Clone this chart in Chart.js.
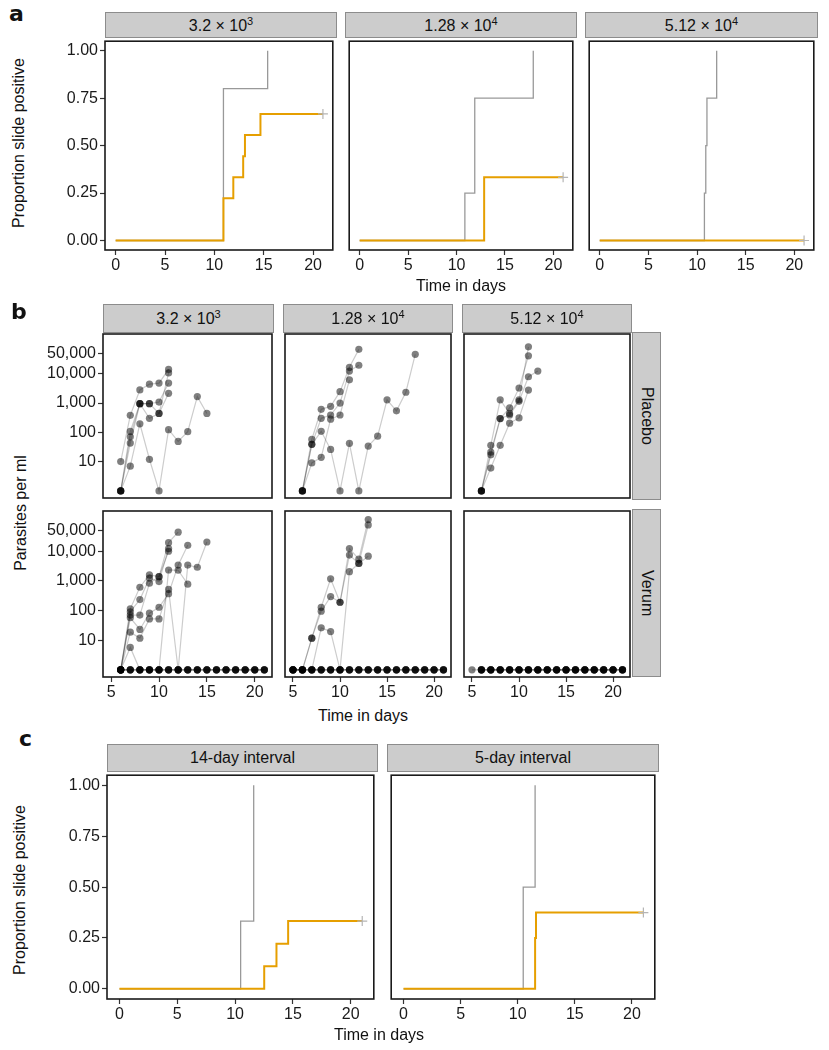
<!DOCTYPE html>
<html>
<head>
<meta charset="utf-8">
<script src="https://cdn.jsdelivr.net/npm/chart.js@4.4.0/dist/chart.umd.min.js"></script>
<style>
    body { margin: 0; background: #fff; font-family: "Liberation Sans", Arial, sans-serif; color: #111; }
    #page { position: relative; width: 829px; height: 1050px; overflow: hidden; }
    canvas { position: absolute; }
    .strip { position: absolute; box-sizing: border-box; background: #cccccc; border: 1px solid #8c8c8c;
             font-size: 16px; display: flex; align-items: center; justify-content: center; white-space: nowrap; }
    .strip sup { font-size: 11px; line-height: 1; vertical-align: 6px; }
    .vstrip { writing-mode: vertical-rl; }
    .lab { position: absolute; font-size: 16px; white-space: nowrap; transform: translate(-50%, -50%); }
    .ylab { transform: translate(-50%, -50%) rotate(-90deg); }
    .letter { position: absolute; font-family: "DejaVu Sans", sans-serif; font-size: 22px; font-weight: bold; line-height: 24px; }
</style>
</head>
<body>
<div id="page"></div>
<script>
// ---- panel a: proportion slide positive (Kaplan-Meier), by dose ----
const kmTicksX = [0, 5, 10, 15, 20]
const kmTicksY = [0, 0.25, 0.5, 0.75, 1]
const aDoses = ["3.2 × 10<sup>3</sup>", "1.28 × 10<sup>4</sup>", "5.12 × 10<sup>4</sup>"]
const aPlaceboT = [[0, 10.92, 15.4], [0, 10.86, 11.88, 17.92], [0, 10.76, 10.9, 11.02, 12.02]]
const aPlaceboP = [[0, 0.8, 1], [0, 0.25, 0.75, 1], [0, 0.25, 0.5, 0.75, 1]]
const aVerumT = [[0, 10.92, 11.92, 12.92, 13.1, 14.67, 21], [0, 12.85, 21], [0, 21]]
const aVerumP = [[0, 0.222, 0.333, 0.444, 0.556, 0.667, 0.667], [0, 0.333, 0.333], [0, 0]]

// ---- panel c: same, by challenge interval ----
const cIntervals = ["14-day interval", "5-day interval"]
const cPlaceboT = [[0, 10.48, 11.61], [0, 10.48, 11.52]]
const cPlaceboP = [[0, 0.333, 1], [0, 0.5, 1]]
const cVerumT = [[0, 12.52, 13.58, 14.59, 21], [0, 11.52, 11.6, 21]]
const cVerumP = [[0, 0.111, 0.222, 0.333, 0.333], [0, 0.25, 0.375, 0.375]]

// ---- panel b: parasites per ml by day (index 0 = day 5), null = no sample ----
const bDays = [5, 6, 7, 8, 9, 10, 11, 12, 13, 14, 15, 16, 17, 18, 19, 20, 21]
const bTicksX = [5, 10, 15, 20]
const bTicksY = [10, 100, 1000, 10000, 50000]
const bGroups = ["Placebo", "Verum"]
const neg5 = [0, 0, 0, 0, 0, 0, 0, 0, 0, 0, 0, 0, 0, 0, 0, 0, 0]
const neg6 = [null, 0, 0, 0, 0, 0, 0, 0, 0, 0, 0, 0, 0, 0, 0, 0, 0]

const placeboLow = [
    [null, 10, 380, 2800, 4400, 4800, 14000],
    [null, 0, 107, 950, 950, 1080, 4800],
    [null, 0, 70, 950, 300, 440, 10700],
    [null, 0, 43, 950, 950, 440, 2150],
    [null, 0, 7, 195, 12, 0, 123, 49, 105, 1660, 440]
]
const placeboMid = [
    [null, 0, 57, 610, 770, 2450, 16600, 68000],
    [null, 0, 39, 300, 390, 1000, 12300, 19500],
    [null, 0, 9, 14, 280, 390, 6200],
    [null, 0, 39, 108, 26, 0, 42, 0, 34, 74, 1290, 540, 2330, 46000]
]
const placeboHigh = [
    [null, 0, 36, 1290, 440, 1290, 83000],
    [null, 0, 21, 295, 680, 3240, 41000],
    [null, 0, 17, 295, 390, 1140, 7900, 12300],
    [null, 0, 6, 36, 205, 310, 2770]
]
const verumLow = [
    [null, 0, 114, 610, 1590, 1390, 19500, 44000],
    [null, 0, 91, 234, 1230, 950, 12300],
    [null, 0, 70, 70, 830, 1390, 10000],
    [null, 0, 57, 23, 81, 129, 370, 3400, 15800],
    [null, 0, 18.6, 11.7, 52, 52, 515, 0, 3400, 2880, 20500],
    [null, 0, 5.7, 0, 0, 0, 2330, 2280, 775],
    neg6, neg6, neg6, neg6
]
const verumMid = [
    [0, 0, 11.7, 129, 1170, 190, 12300, 5400, 117000],
    [0, 0, 11.7, 95, 295, 190, 7400, 3870, 77000],
    [0, 0, 0, 26, 19.5, 0, 2040, 3870, 6800],
    neg5, neg5, neg5, neg5
]
const verumHigh = [neg5, neg6, neg6, neg6, neg6]

var page = document.getElementById("page")
var FONT = '"Liberation Sans", Arial, sans-serif'

function addDiv(cls, html, css){
    var d = document.createElement("div")
    d.className = cls
    d.innerHTML = html
    for (var k in css) d.style[k] = typeof css[k] === "number" ? css[k] + "px" : css[k]
    page.appendChild(d)
    return d
}

// black frame round every facet
var framePlugin = {
    id: "frame",
    afterDraw: function(chart){
        var a = chart.chartArea, ctx = chart.ctx
        ctx.save()
        ctx.strokeStyle = "#1a1a1a"
        ctx.lineWidth = 1.6
        ctx.strokeRect(a.left, a.top, a.right - a.left, a.bottom - a.top)
        ctx.restore()
    }
}

function axis(type, min, max, ticks, fmt, pad){
    return {
        type: type, min: min, max: max,
        grid: {display: true, drawOnChartArea: false, drawTicks: true, tickLength: 5, tickWidth: 1.2, tickColor: "#333"},
        border: {display: false},
        ticks: {color: "#1a1a1a", font: {family: FONT, size: 16, lineHeight: 1.2}, padding: pad,
                autoSkip: false, maxRotation: 0, callback: fmt},
        afterBuildTicks: function(s){ s.ticks = ticks.map(function(v){ return {value: v} }) }
    }
}

function makeChart(box, showX, showY, xScale, yScale, datasets){
    var YW = showY ? 62 : 0, XH = showX ? 26 : 0, P = 2
    var w = box.x1 - box.x0 + 2 * P + YW, h = box.y1 - box.y0 + 2 * P + XH
    var c = document.createElement("canvas")
    c.width = w; c.height = h
    c.style.left = (box.x0 - P - YW) + "px"
    c.style.top = (box.y0 - P) + "px"
    c.style.width = w + "px"; c.style.height = h + "px"
    page.appendChild(c)
    xScale.display = showX
    yScale.display = showY
    // fixed axis sizes, and no label overhang padding, so the plot box lands where it should
    xScale.afterFit = function(s){ s.height = XH; s.paddingLeft = 0; s.paddingRight = 0 }
    yScale.afterFit = function(s){ s.width = YW; s.paddingTop = 0; s.paddingBottom = 0 }
    return new Chart(c, {
        type: "line",
        data: {datasets: datasets},
        options: {
            responsive: false, animation: false, devicePixelRatio: 1,
            layout: {padding: P},
            plugins: {legend: {display: false}, tooltip: {enabled: false}},
            scales: {x: xScale, y: yScale}
        },
        plugins: [framePlugin]
    })
}

function kmSets(pT, pP, vT, vP){
    var pts = function(T, Pr){ return T.map(function(t, i){ return {x: t, y: Pr[i]} }) }
    return [
        {label: "Placebo", data: pts(pT, pP), stepped: true, borderColor: "#999999", borderWidth: 1.3, pointRadius: 0, order: 3},
        {label: "Verum", data: pts(vT, vP), stepped: true, borderColor: "#e69f00", borderWidth: 2, pointRadius: 0, order: 2},
        {label: "censored", data: [{x: vT[vT.length - 1], y: vP[vP.length - 1]}], showLine: false,
         pointStyle: "cross", pointRadius: 5, pointBorderColor: "#b5b5b5", pointBorderWidth: 1.2, order: 1}
    ]
}

function kmChart(box, showY, pT, pP, vT, vP){
    var x = axis("linear", -1.08, 22, kmTicksX, function(v){ return String(v) }, 1)
    var y = axis("linear", -0.05, 1.05, kmTicksY, function(v){ return v.toFixed(2) }, 2)
    makeChart(box, true, showY, x, y, kmSets(pT, pP, vT, vP))
}

function subjSets(subjects){
    var lines = [], dots = []
    subjects.forEach(function(vals){
        var pts = []
        vals.forEach(function(v, i){ if (v !== null) pts.push({x: bDays[i], y: v === 0 ? 1 : v}) })
        lines.push({data: pts, borderColor: "rgba(0,0,0,0.2)", borderWidth: 1.2, pointRadius: 0, order: 2})
        dots.push({data: pts, showLine: false, pointRadius: 3.6, pointBackgroundColor: "rgba(0,0,0,0.5)",
                   pointBorderWidth: 0, order: 1})
    })
    return lines.concat(dots)
}

function parasiteChart(box, showX, showY, subjects){
    var x = axis("linear", 4.15, 21.8, bTicksX, function(v){ return String(v) }, 1)
    var y = axis("logarithmic", Math.pow(10, -0.243), Math.pow(10, 5.357), bTicksY,
                 function(v){ return v.toLocaleString("en-US") }, 2)
    makeChart(box, showX, showY, x, y, subjSets(subjects))
}

// ---------- panel a ----------
var aBoxes = [{x0: 105, x1: 337}, {x0: 345, x1: 577}, {x0: 585, x1: 818}]
aBoxes.forEach(function(b, i){
    b.y0 = 37; b.y1 = 250
    kmChart(b, i === 0, aPlaceboT[i], aPlaceboP[i], aVerumT[i], aVerumP[i])
    addDiv("strip", "<span>" + aDoses[i] + "</span>", {left: b.x0, top: 12, width: b.x1 - b.x0, height: 26})
})
addDiv("letter", "a", {left: 9, top: 2})
addDiv("lab ylab", "Proportion slide positive", {left: 19, top: 143})
addDiv("lab", "Time in days", {left: 461, top: 286})

// ---------- panel b ----------
var bCols = [{x0: 103, x1: 274}, {x0: 283, x1: 453}, {x0: 462, x1: 632}]
var bRows = [{y0: 332, y1: 500}, {y0: 509, y1: 677}]
var bData = [[placeboLow, placeboMid, placeboHigh], [verumLow, verumMid, verumHigh]]
bRows.forEach(function(r, ri){
    bCols.forEach(function(c, ci){
        var box = {x0: c.x0, x1: c.x1, y0: r.y0, y1: r.y1}
        parasiteChart(box, ri === 1, ci === 0, bData[ri][ci])
    })
    addDiv("strip vstrip", "<span>" + bGroups[ri] + "</span>", {left: 632, top: r.y0, width: 29, height: r.y1 - r.y0})
})
bCols.forEach(function(c, i){
    addDiv("strip", "<span>" + aDoses[i] + "</span>", {left: c.x0, top: 304, width: c.x1 - c.x0, height: 29})
})
addDiv("letter", "b", {left: 11, top: 300})
addDiv("lab ylab", "Parasites per ml", {left: 21, top: 513})
addDiv("lab", "Time in days", {left: 363, top: 716})

// ---------- panel c ----------
var cBoxes = [{x0: 107, x1: 378}, {x0: 387, x1: 659}]
cBoxes.forEach(function(b, i){
    b.y0 = 771; b.y1 = 999
    kmChart(b, i === 0, cPlaceboT[i], cPlaceboP[i], cVerumT[i], cVerumP[i])
    addDiv("strip", "<span>" + cIntervals[i] + "</span>", {left: b.x0, top: 744, width: b.x1 - b.x0, height: 28})
})
addDiv("letter", "c", {left: 19, top: 727})
addDiv("lab ylab", "Proportion slide positive", {left: 20, top: 890})
addDiv("lab", "Time in days", {left: 379, top: 1035})
</script>
</body>
</html>
